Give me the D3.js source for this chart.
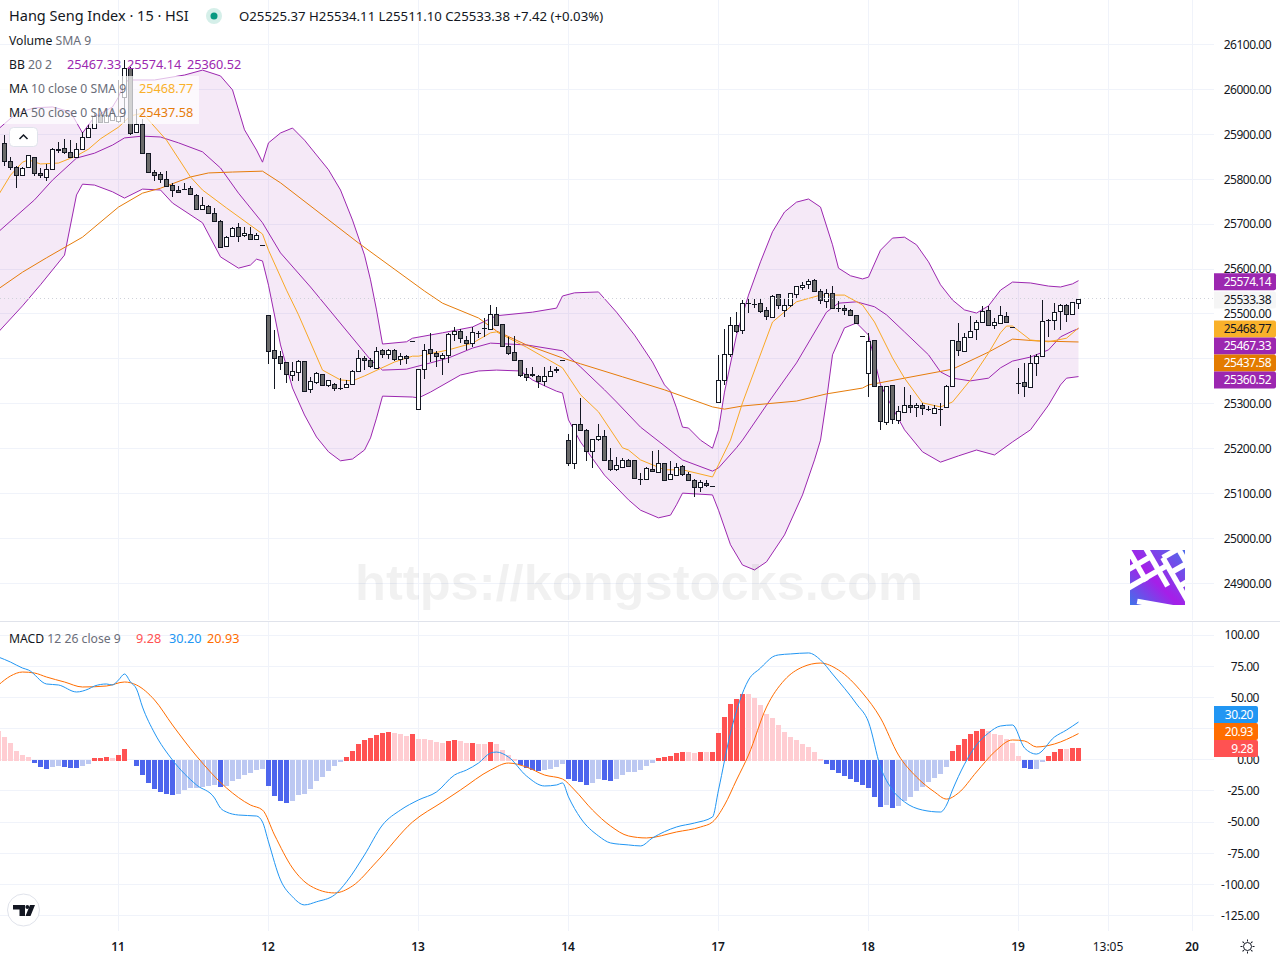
<!DOCTYPE html>
<html>
<head>
<meta charset="utf-8">
<title>Hang Seng Index</title>
<script src="https://cdnjs.cloudflare.com/ajax/libs/d3/7.8.5/d3.min.js"></script>
<style>
  html, body { margin: 0; padding: 0; background: #fff; }
  svg { display: block; }
  text { font-family: "Noto Sans", sans-serif; }
</style>
</head>
<body>
<div id="chart"></div>
<script>
'use strict';

// candles, one entry per 15 minute bar
var opens = [
  25880,25841,25828,25809,25828,25849,25813,25806,25822,25868,
  25869,25861,25850,25868,25893,25915,25943,25928,25932,25930,
  25983,26047,25905,25922,25858,25816,25812,25800,25788,25777,
  25779,25780,25764,25734,25741,25724,25707,25651,25674,25693,
  25675,25677,25666,25653,25497,25419,25406,25392,25365,25370,
  25395,25332,25348,25366,25341,25345,25335,25337,25343,25374,
  25403,25397,25379,25419,25410,25419,25399,25406,25439,25288,
  25377,25423,25412,25403,25408,25455,25461,25443,25435,25458,
  25468,25466,25501,25477,25428,25415,25397,25366,25366,25361,
  25350,25361,25376,25397,25219,25167,25254,25241,25194,25221,
  25228,25174,25154,25160,25174,25174,25133,25132,25154,25147,
  25167,25132,25141,25161,25143,25130,25114,25123,25116,25303,
  25352,25410,25475,25464,25524,25522,25524,25508,25493,25544,
  25508,25521,25544,25559,25566,25575,25550,25528,25546,25513,
  25513,25508,25497,25452,25368,25441,25339,25259,25341,25263,
  25281,25297,25292,25297,25289,25279,25289,25292,25339,25439,
  25417,25448,25466,25481,25508,25475,25479,25495,25470,25346,
  25348,25337,25390,25406,25486,25486,25506,25519,25501,25525.37
];
var closes = [
  25841,25828,25810,25826,25853,25813,25809,25823,25867,25865,
  25861,25850,25867,25893,25915,25941,25928,25943,25947,25940,
  26047,25902,25924,25859,25815,25809,25800,25786,25777,25772,
  25778,25766,25733,25742,25724,25707,25650,25672,25692,25674,
  25681,25666,25675,25653,25418,25401,25390,25366,25374,25395,
  25328,25350,25368,25341,25352,25334,25334,25345,25372,25401,
  25397,25383,25417,25410,25419,25399,25406,25401,25439,25377,
  25419,25412,25406,25408,25455,25461,25446,25435,25459,25458,
  25468,25501,25475,25428,25414,25397,25363,25360,25363,25350,
  25361,25374,25377,25397,25167,25254,25241,25194,25221,25228,
  25174,25154,25163,25174,25161,25134,25133,25156,25150,25167,
  25130,25143,25159,25143,25130,25114,25125,25118,25116,25354,
  25410,25475,25461,25524,25524,25522,25507,25495,25541,25521,
  25521,25546,25562,25564,25573,25550,25530,25546,25513,25513,
  25508,25497,25479,25452,25439,25339,25261,25339,25265,25283,
  25297,25292,25297,25290,25289,25290,25289,25339,25441,25419,
  25448,25463,25481,25506,25475,25481,25497,25481,25470,25346,
  25339,25390,25406,25484,25486,25504,25519,25499,25526,25533.38
];
var highs = [
  25898,25850,25829,25827,25854,25850,25824,25835,25869,25884,
  25889,25887,25880,25906,25920,25947,25945,25950,25954,26021,
  26065,26051,25956,25933,25859,25821,25817,25819,25792,25786,
  25792,25785,25767,25761,25742,25735,25709,25673,25694,25702,
  25693,25694,25680,25653,25497,25464,25418,25392,25394,25397,
  25395,25359,25371,25367,25353,25347,25357,25353,25375,25420,
  25406,25401,25427,25423,25423,25421,25412,25409,25439,25378,
  25433,25457,25418,25412,25458,25470,25466,25451,25470,25463,
  25492,25520,25515,25478,25449,25451,25398,25379,25381,25364,
  25381,25383,25381,25397,25232,25256,25312,25243,25222,25256,
  25242,25201,25181,25179,25176,25175,25145,25160,25194,25197,
  25168,25172,25167,25163,25149,25132,25130,25130,25116,25409,
  25466,25494,25505,25530,25533,25533,25536,25516,25542,25545,
  25533,25547,25563,25571,25577,25577,25555,25555,25562,25529,
  25520,25510,25498,25452,25457,25442,25340,25340,25342,25295,
  25337,25319,25301,25301,25294,25297,25301,25342,25443,25479,
  25458,25495,25487,25518,25518,25490,25518,25504,25470,25379,
  25390,25409,25411,25531,25488,25524,25522,25522,25527,25534.11
];
var lows = [
  25830,25821,25780,25808,25827,25807,25802,25795,25821,25858,
  25856,25849,25849,25865,25892,25914,25927,25926,25930,25925,
  25925,25898,25904,25858,25814,25795,25792,25785,25761,25769,
  25776,25765,25731,25733,25723,25705,25648,25650,25672,25661,
  25672,25665,25665,25653,25389,25332,25375,25346,25351,25351,
  25327,25325,25344,25340,25337,25328,25331,25334,25342,25374,
  25375,25379,25377,25402,25400,25396,25386,25389,25439,25287,
  25356,25393,25381,25365,25390,25440,25436,25420,25426,25446,
  25449,25464,25473,25426,25409,25395,25359,25351,25359,25334,
  25340,25359,25368,25397,25162,25154,25239,25173,25156,25216,
  25173,25151,25151,25159,25160,25133,25118,25130,25147,25145,
  25129,25130,25139,25139,25128,25092,25104,25115,25116,25303,
  25342,25405,25457,25455,25503,25513,25503,25487,25491,25510,
  25494,25515,25535,25553,25555,25550,25522,25513,25511,25504,
  25498,25495,25478,25452,25314,25338,25242,25253,25256,25254,
  25280,25280,25271,25275,25285,25277,25251,25291,25338,25406,
  25416,25446,25442,25479,25473,25467,25478,25481,25470,25322,
  25316,25336,25362,25405,25449,25464,25464,25481,25500,25511.10
];

// indicator lines: bar index and value
var upperBars = [-1,2,5,8,11,13,15,18,19,20,21,25,30,33,36,38,40,42,43,44,46,48,50,52,54,56,58,60,61,62,63,67,68,73,78,82,88,92,93,95,99,102,105,108,110,111,112,113,114,116,118,119,120,122,124,126,128,130,132,134,136,138,139,141,143,144,146,148,150,152,154,156,158,160,162,164,166,168,171,174,176,178,179];
var upperVals = [25912,25947,25959,25961,25950,25903,25939,25961,25983,26017,26021,26021,26032,26043,26030,25999,25910,25865,25838,25881,25903,25914,25887,25854,25821,25776,25709,25631,25576,25509,25433,25438,25446,25458,25471,25496,25504,25513,25540,25547,25549,25504,25453,25393,25342,25328,25291,25248,25246,25219,25201,25242,25326,25453,25542,25616,25683,25727,25749,25756,25738,25654,25602,25585,25578,25582,25642,25669,25671,25654,25616,25565,25531,25509,25502,25518,25553,25571,25569,25562,25560,25567,25574.14];

var basisBars = [-1,5,8,12,15,18,20,23,26,29,33,36,39,43,46,51,61,63,67,71,74,78,81,87,93,96,100,102,106,113,118,119,122,123,127,132,137,139,142,145,147,150,154,156,158,161,164,166,168,171,174,176,178,179];
var basisVals = [25683,25754,25798,25847,25858,25876,25892,25896,25894,25881,25861,25825,25769,25703,25636,25560,25398,25375,25377,25391,25402,25424,25435,25431,25418,25382,25331,25304,25248,25175,25150,25157,25202,25219,25297,25391,25504,25524,25527,25516,25498,25460,25409,25371,25357,25351,25357,25380,25395,25404,25420,25449,25462,25467.33];

var lowerBars = [-1,3,6,10,11,12,13,15,18,20,23,26,28,33,36,39,41,42,43,44,46,48,50,52,54,56,58,60,61,62,63,68,69,71,76,79,82,86,88,90,92,93,94,96,100,104,106,109,111,112,113,118,119,121,123,125,127,130,133,135,136,137,138,140,142,144,146,148,150,153,156,159,162,165,168,171,174,176,177,179];
var lowerVals = [25460,25518,25565,25631,25698,25765,25789,25787,25772,25758,25778,25776,25747,25703,25627,25602,25609,25622,25618,25564,25431,25335,25275,25226,25193,25173,25177,25197,25224,25268,25317,25315,25313,25326,25364,25373,25375,25373,25353,25340,25328,25324,25264,25215,25141,25086,25063,25046,25052,25075,25101,25097,25063,24986,24941,24930,24948,25008,25097,25175,25219,25308,25409,25469,25480,25453,25342,25291,25242,25193,25170,25184,25197,25186,25215,25242,25297,25342,25357,25360.52];

var ma10Bars = [-1,1,3,4,6,9,12,14,16,19,21,23,27,31,33,37,43,44,47,49,53,56,58,60,65,68,69,74,78,81,82,87,93,96,99,103,104,106,110,113,118,119,121,123,128,132,136,140,143,145,148,150,153,156,158,161,164,166,167,168,171,174,177,179];
var ma10Vals = [25765,25809,25838,25843,25834,25836,25852,25867,25890,25916,25941,25947,25887,25805,25776,25736,25678,25642,25553,25498,25375,25353,25351,25362,25393,25406,25406,25420,25435,25458,25460,25426,25380,25320,25282,25202,25197,25175,25153,25153,25137,25164,25219,25302,25482,25527,25542,25542,25520,25482,25402,25357,25302,25293,25304,25353,25413,25458,25473,25473,25442,25438,25446,25468.77];

var ma50Bars = [-1,3,7,13,19,23,26,31,34,38,43,46,59,70,73,79,82,87,93,96,103,110,118,120,123,132,137,143,144,158,164,168,172,179];
var ma50Vals = [25556,25593,25625,25671,25738,25769,25780,25805,25814,25816,25818,25792,25658,25551,25524,25491,25462,25431,25402,25389,25360,25331,25293,25288,25295,25306,25322,25335,25342,25377,25415,25444,25440,25437.58];

var macdBars = [-1,1,3,4,7,9,12,14,15,17,18,19,20,21,22,23,25,28,32,35,36,37,39,42,43,44,46,48,50,52,55,57,60,63,66,69,72,75,77,79,81,82,84,87,90,92,93,94,96,99,101,104,106,108,112,115,118,119,121,124,126,127,128,129,131,134,136,138,142,144,146,148,150,153,156,157,158,162,164,166,168,170,172,175,177,179];
var macdVals = [82.3,78.3,73.5,71.9,60.7,59.9,54.3,56.7,59.1,60.7,59.9,63.9,68.7,62.3,56.7,42.2,21.4,-0.3,-20.3,-30.7,-38.8,-42,-44.4,-45.2,-50,-66,-96.5,-110,-116.5,-114,-108.5,-98,-76.4,-52.4,-40.4,-32.3,-25.9,-12.3,-8.3,-2.7,5.3,6.1,2.1,-13.1,-21.1,-20.3,-18.7,-29.9,-46.8,-61.2,-66.8,-68.4,-69.2,-62.8,-54,-50.8,-46,-24.3,21.4,63.9,73.5,78.3,82.4,84,84.8,85.6,80,68.7,44.7,30.2,-5.9,-24.3,-33.9,-40.4,-42,-36.4,-24.3,11.8,21.4,27,27.8,9.4,4.5,18.2,23.8,30.2];

var signalBars = [-1,1,3,5,7,10,13,17,20,22,25,28,32,37,41,43,45,48,51,55,58,62,68,73,76,81,84,87,90,93,95,98,101,104,107,112,116,118,120,122,124,127,130,133,136,139,143,146,149,152,155,157,159,162,165,168,170,172,175,179];
var signalVals = [59.9,67.1,70.3,69.5,66.3,62.3,58.3,59.1,62.3,59.9,47.9,27.8,2.9,-22.7,-36.4,-40.4,-60.4,-86.9,-101.3,-106.9,-101.3,-82,-50,-33.9,-24.3,-8.3,-2.7,-5.9,-12.3,-15.5,-24.3,-40.4,-53.2,-61.2,-62.8,-58,-54,-50,-36.4,-16.3,3.7,42.2,63.9,74.3,77.5,71.9,53.5,33.4,3.7,-13.9,-25.9,-31.6,-26.7,-9.9,6.2,15.8,15,10.2,12.6,20.93];

// histogram starts one bar left of the first candle
var histVals = [
  23,
  18,13.4,7,3.7,2.1,-2.7,-5.9,-7.5,-5.9,-5.1,
  -5.9,-6.7,-6.8,-5.1,-3.5,1.1,1.1,1.9,1.1,3.5,
  8.3,-0.5,-5.1,-12.3,-18.7,-23.5,-25.9,-27.5,-28.3,-27.5,
  -24.6,-23,-23,-21.9,-21.1,-20.3,-21.9,-21.1,-17,-15.5,
  -12.3,-10.7,-8.3,-7.5,-21.1,-29.1,-33.2,-34.8,-33.2,-28.3,
  -27.5,-23.5,-17.1,-13.9,-9.1,-5.3,-2.1,2.4,7.2,12.8,
  16,17.6,20,21.7,22.5,21.7,20.9,19.3,20.9,16.8,
  16.7,16,14.4,13.6,15.2,16,15.2,13.6,13.6,12.8,
  12.7,14.4,12.8,8,4,0.8,-4.3,-6.7,-8.3,-9.1,
  -8.3,-7.2,-5.6,-3.2,-15.3,-16.8,-17.6,-20.1,-18.5,-15.3,
  -16,-16.8,-15.3,-12,-9.6,-9.6,-8,-4.8,-2.4,1.6,
  2.4,3.2,5.6,6.5,6.4,5.6,5.9,5.8,5.9,21.1,
  34,44.4,48.4,52.6,52.4,49.2,43.6,36.4,33.2,27.5,
  21.9,17.9,15.5,12.3,9.9,5.9,0.3,-3.5,-8.3,-10.7,
  -13.1,-15.5,-17.9,-20.3,-22.7,-29.9,-38,-36.4,-38.8,-37.2,
  -33.2,-29.9,-25.1,-21.9,-17.9,-14.7,-11.5,-5.9,6.7,11.5,
  16.3,20.3,22.7,24.3,22.7,20.3,19.5,16.3,13.1,2.7,
  -6.7,-7.5,-7.4,-1.9,2.7,5.9,8.3,8.2,9.1,9.28
];

var priceTicks = [24900,25000,25100,25200,25300,25400,25500,25600,25700,25800,25900,26000,26100];
var macdTicks = [-125,-100,-75,-50,-25,0,25,50,75,100];
// 25400.00 and 25.00 sit behind the value tags, so they get no label
var priceLabels = [24900,25000,25100,25200,25300,25500,25600,25700,25800,25900,26000,26100];
var macdLabels = [-125,-100,-75,-50,-25,0,50,75,100];
var timeBars = [19,44,69,94,119,144,169,184,198];
var timeLabels = ['11','12','13','14','17','18','19','13:05','20'];

var priceTagVals = [25574.14,25533.38,25468.77,25467.33,25437.58,25360.52];
var priceTagFills = ['#9c27b0','#f5f5f5','#f9b12a','#9c27b0','#e37b00','#9c27b0'];
var priceTagText = ['#fff','#131722','#131722','#fff','#fff','#fff'];
var macdTagVals = [30.20,20.93,9.28];
var macdTagFills = ['#2196f3','#ff6d00','#ff5252'];

var W = 1280, H = 960;
var plotR = 1214;
var bbColor = '#9c27b0', ma10Color = '#f9a825', ma50Color = '#e67c0b';
var macdColor = '#2196f3', signalColor = '#ff6d00';
var gridColor = '#f0f3fa', textColor = '#131722', greyText = '#6a6d78';

var x = d3.scaleLinear().domain([0, 179]).range([4.5, 1078.5]);
var y = d3.scaleLinear().domain([24900, 26100]).range([583.4, 44.5]);
var yM = d3.scaleLinear().domain([-125, 100]).range([915.5, 635]);

var svg = d3.select('#chart').append('svg')
  .attr('width', W)
  .attr('height', H);

var defs = svg.append('defs');
var clip = defs.append('clipPath').attr('id', 'plot');
clip.append('rect').attr('x', 0).attr('y', 0).attr('width', plotR).attr('height', 620);
var clipM = defs.append('clipPath').attr('id', 'plotM');
clipM.append('rect').attr('x', 0).attr('y', 622).attr('width', plotR).attr('height', 309);

/* Grid */

var grid = svg.append('g').attr('shape-rendering', 'crispEdges').attr('stroke', gridColor);
priceTicks.forEach(function (t) {
  grid.append('line').attr('x1', 0).attr('x2', plotR).attr('y1', Math.floor(y(t)) + 0.5).attr('y2', Math.floor(y(t)) + 0.5);
});
macdTicks.forEach(function (t) {
  grid.append('line').attr('x1', 0).attr('x2', plotR).attr('y1', Math.floor(yM(t)) + 0.5).attr('y2', Math.floor(yM(t)) + 0.5);
});
timeBars.forEach(function (b) {
  grid.append('line').attr('x1', x(b)).attr('x2', x(b)).attr('y1', 0).attr('y2', 620);
  grid.append('line').attr('x1', x(b)).attr('x2', x(b)).attr('y1', 622).attr('y2', 931);
});

svg.append('line')
  .attr('x1', 0).attr('x2', W).attr('y1', 621).attr('y2', 621)
  .attr('stroke', '#e0e3eb')
  .attr('shape-rendering', 'crispEdges');

/* Price pane */

var price = svg.append('g').attr('clip-path', 'url(#plot)');

var zipLine = function zipLine(bars, vals) {
  return bars.map(function (b, i) { return [b, vals[i]]; });
};

var lineP = d3.line()
  .x(function (d) { return x(d[0]); })
  .y(function (d) { return y(d[1]); });

var upper = zipLine(upperBars, upperVals);
var lower = zipLine(lowerBars, lowerVals);

price.append('path')
  .attr('d', lineP(upper.concat(lower.slice().reverse())) + 'Z')
  .attr('fill', bbColor)
  .attr('fill-opacity', 0.1);

// watermark sits under the lines
svg.append('text')
  .attr('x', 639)
  .attr('y', 600)
  .attr('text-anchor', 'middle')
  .style('font-family', '"Liberation Sans", sans-serif')
  .style('font-weight', 700)
  .style('font-size', '50.6px')
  .attr('fill', '#000')
  .attr('fill-opacity', 0.055)
  .text('https://kongstocks.com');

var drawPriceLine = function drawPriceLine(bars, vals, color) {
  price.append('path')
    .attr('d', lineP(zipLine(bars, vals)))
    .attr('fill', 'none')
    .attr('stroke', color)
    .attr('stroke-width', 1);
};

drawPriceLine(upperBars, upperVals, bbColor);
drawPriceLine(basisBars, basisVals, bbColor);
drawPriceLine(lowerBars, lowerVals, bbColor);
drawPriceLine(ma50Bars, ma50Vals, ma50Color);
drawPriceLine(ma10Bars, ma10Vals, ma10Color);

// last price dotted line
svg.append('line')
  .attr('x1', 0).attr('x2', plotR)
  .attr('y1', Math.floor(y(25533.38)) + 0.5).attr('y2', Math.floor(y(25533.38)) + 0.5)
  .attr('stroke', '#cfd2da')
  .attr('stroke-dasharray', '1,3');

var candles = price.append('g').attr('shape-rendering', 'crispEdges');
opens.forEach(function (o, i) {
  var c = closes[i];
  var cx = Math.floor(x(i)) + 0.5;
  var top = Math.round(y(Math.max(o, c))) + 0.5;
  var bot = Math.round(y(Math.min(o, c))) + 0.5;
  if (highs[i] > lows[i]) {
    candles.append('line')
      .attr('x1', cx).attr('x2', cx)
      .attr('y1', y(highs[i])).attr('y2', y(lows[i]))
      .attr('stroke', '#131722');
  }
  if (bot - top < 1) {
    candles.append('line')
      .attr('x1', cx - 2.5).attr('x2', cx + 2.5)
      .attr('y1', top).attr('y2', top)
      .attr('stroke', '#131722');
  } else {
    candles.append('rect')
      .attr('x', cx - 2).attr('y', top)
      .attr('width', 4).attr('height', bot - top)
      .attr('fill', c >= o ? '#fff' : '#6b6b6b')
      .attr('stroke', '#131722');
  }
});

/* MACD pane */

var macdPane = svg.append('g').attr('clip-path', 'url(#plotM)');

macdPane.append('g').attr('shape-rendering', 'crispEdges')
  .selectAll('rect')
  .data(histVals)
  .enter().append('rect')
  .attr('x', function (d, i) { return x(i - 1) - 2.5; })
  .attr('width', 5)
  .attr('y', function (d) { return d >= 0 ? yM(d) : yM(0); })
  .attr('height', function (d) { return d >= 0 ? yM(0) - yM(d) + 1.3 : yM(d) - yM(0); })
  .attr('fill', function (d, i) {
    var prev = i > 0 ? histVals[i - 1] : Infinity;
    if (d >= 0) {
      return d >= prev ? '#ff5252' : '#ffcdd2';
    }
    return d < prev ? '#4d65ed' : '#bcc8f2';
  });

var lineM = d3.line()
  .x(function (d) { return x(d[0]); })
  .y(function (d) { return yM(d[1]); })
  .curve(d3.curveMonotoneX);

macdPane.append('path')
  .attr('d', lineM(zipLine(signalBars, signalVals)))
  .attr('fill', 'none').attr('stroke', signalColor).attr('stroke-width', 1);
macdPane.append('path')
  .attr('d', lineM(zipLine(macdBars, macdVals)))
  .attr('fill', 'none').attr('stroke', macdColor).attr('stroke-width', 1);

/* Logo */

var grad = defs.append('linearGradient').attr('id', 'logoGrad')
  .attr('x1', 0).attr('y1', 1).attr('x2', 1).attr('y2', 0);
grad.append('stop').attr('offset', '0%').attr('stop-color', '#3f74ea');
grad.append('stop').attr('offset', '45%').attr('stop-color', '#a61ee8');
grad.append('stop').attr('offset', '100%').attr('stop-color', '#4d6eea');
defs.append('clipPath').attr('id', 'logoClip')
  .append('rect').attr('x', 1130).attr('y', 550).attr('width', 55).attr('height', 55);

var logo = svg.append('g').attr('clip-path', 'url(#logoClip)');
logo.append('rect').attr('x', 1130).attr('y', 550).attr('width', 55).attr('height', 55).attr('fill', 'url(#logoGrad)');
var logoBars = logo.append('g')
  .attr('transform', 'rotate(-30 1157.5 577.5)')
  .attr('stroke', '#fff')
  .attr('stroke-width', 5.5);
[[1122, 572, 1170, 572], [1122, 556, 1162, 556], [1162, 545, 1162, 590], [1146, 540, 1146, 575],
  [1172, 563, 1200, 563], [1172, 580, 1200, 580], [1172, 596, 1205, 596], [1172, 563, 1172, 612],
  [1128, 588, 1160, 615], [1190, 550, 1190, 612]].forEach(function (s) {
  logoBars.append('line').attr('x1', s[0]).attr('y1', s[1]).attr('x2', s[2]).attr('y2', s[3]);
});

/* Axes */

var stripAxis = function stripAxis(g) {
  g.select('.domain').remove();
  g.selectAll('.tick line').remove();
};

var tickText = function tickText(g) {
  g.selectAll('text')
    .attr('fill', textColor)
    .style('font-family', '"Noto Sans", sans-serif')
    .style('font-size', '12px')
    .style('letter-spacing', '-0.5px');
};

svg.append('g')
  .attr('transform', 'translate(1271,0)')
  .call(d3.axisLeft(y).tickValues(priceLabels).tickSize(0).tickPadding(0).tickFormat(d3.format('.2f')))
  .call(stripAxis)
  .call(tickText);

svg.append('g')
  .attr('transform', 'translate(1259,0)')
  .call(d3.axisLeft(yM).tickValues(macdLabels).tickSize(0).tickPadding(0).tickFormat(function (d) {
    return d3.format('.2f')(d).replace('\u2212', '-');
  }))
  .call(stripAxis)
  .call(tickText);

var timeFormat = function timeFormat(d) {
  return timeLabels[timeBars.indexOf(d)];
};

svg.append('g')
  .attr('transform', 'translate(-1,942)')
  .call(d3.axisBottom(x).tickValues(timeBars).tickSize(0).tickPadding(0).tickFormat(timeFormat))
  .call(stripAxis)
  .call(tickText)
  .selectAll('text')
  .style('letter-spacing', '0')
  .style('font-weight', function (d) { return timeFormat(d).indexOf(':') >= 0 ? 400 : 600; });

/* Value tags on the right scale */

var drawTag = function drawTag(cy, w, fill, color, label) {
  svg.append('path')
    .attr('d', 'M1214,' + (cy - 8.5) + 'H' + (1214 + w - 2) + 'q2,0 2,2V' + (cy + 6.5) + 'q0,2 -2,2H1214Z')
    .attr('fill', fill);
  svg.append('text')
    .attr('x', 1214 + w - 5)
    .attr('y', cy + 4.2)
    .attr('text-anchor', 'end')
    .attr('fill', color)
    .style('font-size', '12px')
    .style('letter-spacing', '-0.5px')
    .text(label);
};

var prevTag = -Infinity;
priceTagVals.forEach(function (v, i) {
  var cy = Math.max(y(v) + 1, prevTag + 17);
  prevTag = cy;
  drawTag(cy, 62, priceTagFills[i], priceTagText[i], d3.format('.2f')(v));
});

var nextTag = Infinity;
for (var t = macdTagVals.length - 1; t >= 0; t--) {
  var tagY = Math.min(yM(macdTagVals[t]) + 0.5, nextTag - 17);
  nextTag = tagY;
  drawTag(tagY, 44, macdTagFills[t], '#fff', d3.format('.2f')(macdTagVals[t]));
}

/* Legend */

svg.append('rect')
  .attr('x', 0).attr('y', 76).attr('width', 199).attr('height', 48)
  .attr('fill', '#fff').attr('fill-opacity', 0.7);

// parts: text, colour, optional absolute x, optional font size
var legendRow = function legendRow(py, parts) {
  var row = svg.append('text').attr('x', 9).attr('y', py).style('font-size', '12.2px');
  parts.forEach(function (p) {
    var span = row.append('tspan').attr('fill', p[1]).text(p[0]);
    if (p[2]) {
      span.attr('x', p[2]).style('font-size', '12.7px');
    }
  });
};

svg.append('text').attr('x', 9).attr('y', 21)
  .attr('fill', textColor).style('font-size', '14.5px')
  .text('Hang Seng Index \u00b7 15 \u00b7 HSI');

svg.append('circle').attr('cx', 214).attr('cy', 16).attr('r', 8).attr('fill', '#d5efe9');
svg.append('circle').attr('cx', 214).attr('cy', 16).attr('r', 3.5).attr('fill', '#089981');

svg.append('text').attr('x', 239).attr('y', 21)
  .attr('fill', textColor).style('font-size', '13.2px')
  .text('O25525.37 H25534.11 L25511.10 C25533.38 +7.42 (+0.03%)');

legendRow(45, [['Volume', textColor], [' SMA 9', greyText]]);
legendRow(69, [['BB', textColor], [' 20 2', greyText], ['25467.33', bbColor, 67], ['25574.14', bbColor, 127], ['25360.52', bbColor, 187]]);
legendRow(93, [['MA', textColor], [' 10 close 0 SMA 9', greyText], ['25468.77', '#f9b12a', 139]]);
legendRow(117, [['MA', textColor], [' 50 close 0 SMA 9', greyText], ['25437.58', '#e67c0b', 139]]);
legendRow(643, [['MACD', textColor], [' 12 26 close 9', greyText], ['9.28', '#ff5252', 136], ['30.20', macdColor, 169], ['20.93', signalColor, 207]]);

// collapse button
svg.append('rect')
  .attr('x', 9.5).attr('y', 127.5).attr('width', 28).attr('height', 19).attr('rx', 4)
  .attr('fill', '#fff').attr('stroke', '#e0e3eb');
svg.append('path')
  .attr('d', 'M19.5,139 L23.5,135 L27.5,139')
  .attr('fill', 'none').attr('stroke', textColor).attr('stroke-width', 1.5);

// TradingView mark
svg.append('circle')
  .attr('cx', 23.5).attr('cy', 910).attr('r', 16)
  .attr('fill', '#fff').attr('stroke', '#e0e3eb');
svg.append('path')
  .attr('d', 'M13,905H25V916H19.5V909.5H13ZM30,905H35L30.5,916H25.5Z')
  .attr('fill', textColor);
svg.append('circle').attr('cx', 27.3).attr('cy', 907).attr('r', 1.9).attr('fill', textColor);

// settings icon
var gear = svg.append('g').attr('transform', 'translate(1247.5,946.5)').attr('stroke', textColor).attr('fill', 'none');
gear.append('circle').attr('r', 4);
d3.range(0, 360, 45).forEach(function (a) {
  gear.append('line').attr('x1', 0).attr('x2', 0).attr('y1', -5).attr('y2', -7).attr('transform', 'rotate(' + a + ')');
});
</script>
</body>
</html>
